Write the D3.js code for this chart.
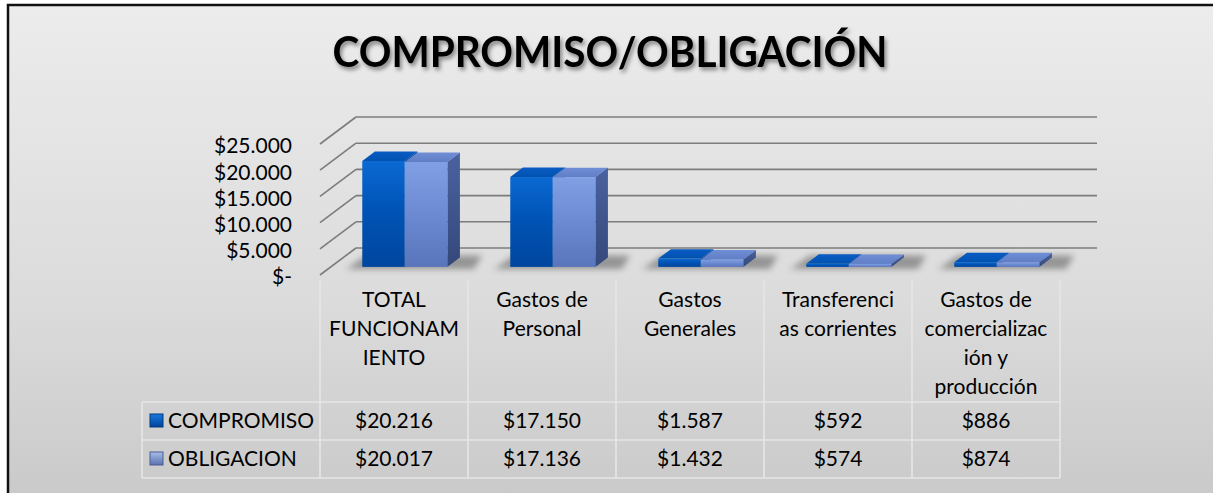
<!DOCTYPE html>
<html><head><meta charset="utf-8">
<script src="https://cdn.jsdelivr.net/npm/d3@7"></script>
<style>body{margin:0;background:#fff;overflow:hidden}</style>
</head><body><svg id="c" width="1213" height="493"></svg>
<script>
const title = "COMPROMISO/OBLIGACIÓN";
const categories = [
  ["TOTAL","FUNCIONAM","IENTO"],
  ["Gastos de","Personal"],
  ["Gastos","Generales"],
  ["Transferenci","as corrientes"],
  ["Gastos de","comercializac","ión y","producción"]
];
const seriesNames = ["COMPROMISO","OBLIGACION"];
const compromiso = [20216,17150,1587,592,886];
const obligacion = [20017,17136,1432,574,874];
const compromisoLabels = ["$20.216","$17.150","$1.587","$592","$886"];
const obligacionLabels = ["$20.017","$17.136","$1.432","$574","$874"];
const tickValues = [0,5000,10000,15000,20000,25000];
const tickLabels = ["$-","$5.000","$10.000","$15.000","$20.000","$25.000"];

const series = [
  {name: seriesNames[0], values: compromiso, labels: compromisoLabels},
  {name: seriesNames[1], values: obligacion, labels: obligacionLabels}
];

const FONT = "Lato, 'Open Sans', sans-serif";
const svg = d3.select("#c");
const defs = svg.append("defs");

function lin(id, stops, x2, y2) {
  const g = defs.append("linearGradient").attr("id", id)
    .attr("x1",0).attr("y1",0).attr("x2",x2).attr("y2",y2);
  stops.forEach(s => g.append("stop").attr("offset", s[0]).attr("stop-color", s[1]));
}
lin("bg", [[0,"#ececec"],[0.5,"#dbdbdb"],[1,"#c0c0c0"]], 0, 1);
lin("cFront", [[0,"#0b69d2"],[0.45,"#0054b6"],[1,"#00469e"]], 0, 1);
lin("cTop", [[0,"#0a5cc4"],[1,"#0052b0"]], 0, 1);
lin("cSide", [[0,"#00408e"],[1,"#003474"]], 0, 1);
lin("oFront", [[0,"#809fe4"],[0.45,"#6d8cd4"],[1,"#5975bb"]], 0, 1);
lin("oTop", [[0,"#6f8ed6"],[1,"#5f7ec6"]], 0, 1);
lin("oSide", [[0,"#4a62a0"],[1,"#34487a"]], 0, 1);
lin("cMark", [[0,"#1a78e0"],[1,"#00449a"]], 0, 1);
lin("oMark", [[0,"#a8bde8"],[1,"#5a72b0"]], 0, 1);

const ts = defs.append("filter").attr("id","tshadow").attr("x","-10%").attr("y","-30%").attr("width","120%").attr("height","160%");
ts.append("feDropShadow").attr("dx",2).attr("dy",3).attr("stdDeviation",2)
  .attr("flood-color","#000").attr("flood-opacity",0.45);
const bs = defs.append("filter").attr("id","bshadow").attr("x","-30%").attr("y","-100%").attr("width","160%").attr("height","300%");
bs.append("feGaussianBlur").attr("stdDeviation",3);

// background + border
svg.append("rect").attr("x",8).attr("y",5).attr("width",1300).attr("height",600)
  .attr("fill","url(#bg)").attr("stroke","#111").attr("stroke-width",2.5);

// title
svg.append("text").attr("x",610).attr("y",67).attr("text-anchor","middle")
  .attr("font-family",FONT).attr("font-weight",700).attr("font-size",42)
  .attr("textLength",555).attr("lengthAdjust","spacingAndGlyphs")
  .attr("fill","#000").attr("filter","url(#tshadow)").text(title);

// scales
const x = d3.scaleBand().domain(d3.range(categories.length)).range([320,1060]);
const y = d3.scaleLinear().domain([0,25000]).range([275,144]);
const DX = 36, DY = -27;
const z0 = 0.3, z1 = 0.65;
const inner = d3.scaleBand().domain(d3.range(series.length))
  .range([0, x.bandwidth()]).paddingOuter(0.74).paddingInner(0);

// gridlines (back wall) and diagonals (side)
const grid = svg.append("g").attr("stroke","#7c7c7c").attr("stroke-width",1.6).attr("fill","none");
tickValues.forEach(t => {
  grid.append("line").attr("x1", x.range()[0]+DX).attr("x2", x.range()[1]+DX+1)
    .attr("y1", y(t)+DY).attr("y2", y(t)+DY);
  grid.append("line").attr("x1", x.range()[0]).attr("x2", x.range()[0]+DX)
    .attr("y1", y(t)).attr("y2", y(t)+DY);
});

// axis labels
const yAxis = d3.axisLeft(y).tickValues(tickValues).tickSize(0)
  .tickFormat((d,i) => tickLabels[i]);
const ya = svg.append("g").attr("transform","translate(292,0)").call(yAxis);
ya.select(".domain").remove();
ya.selectAll("text").attr("font-family",FONT).attr("font-size",21).attr("fill","#000")
  .attr("x",0).attr("dy","0.35em");
ya.selectAll(".tick").attr("transform", d => `translate(0,${y(d)+2})`);

// bars
const bars = svg.append("g");
const faces = [["cFront","cTop","cSide"],["oFront","oTop","oSide"]];
categories.forEach((c, i) => {
  const gx0 = x(i) + inner(0) + DX*z0, gx1 = x(i) + inner(1) + inner.bandwidth() + DX*z1;
  const yb = y(0) + DY*z0;
  bars.append("polygon")
    .attr("points", [[gx0-16, yb+2],[gx1+14, yb+2],[gx1+22, yb+DY*(z1-z0)-2],[gx0+4, yb+DY*(z1-z0)-2]].map(p=>p.join(",")).join(" "))
    .attr("fill","#3a3a3a").attr("opacity",0.45).attr("filter","url(#bshadow)");
  series.forEach((s, j) => {
    const v = s.values[i];
    const fx0 = x(i) + inner(j) + DX*z0;
    const fx1 = fx0 + inner.bandwidth();
    const fyB = y(0) + DY*z0;
    const fyT = y(v) + DY*z0;
    const ddx = DX*(z1-z0), ddy = DY*(z1-z0);
    const g = bars.append("g");
    g.append("polygon").attr("points", [[fx1,fyT],[fx1+ddx,fyT+ddy],[fx1+ddx,fyB+ddy],[fx1,fyB]].map(p=>p.join(",")).join(" "))
      .attr("fill", `url(#${faces[j][2]})`);
    g.append("polygon").attr("points", [[fx0,fyT],[fx1,fyT],[fx1+ddx,fyT+ddy],[fx0+ddx,fyT+ddy]].map(p=>p.join(",")).join(" "))
      .attr("fill", `url(#${faces[j][1]})`);
    g.append("rect").attr("x", fx0).attr("y", fyT).attr("width", fx1-fx0).attr("height", fyB-fyT)
      .attr("fill", `url(#${faces[j][0]})`);
  });
});

// data table
const tbl = svg.append("g");
const lineC = "#e6e6e6";
const rowY = [402, 440, 478];
const legendX = 142;
x.domain().concat([categories.length]).forEach(i => {
  const xx = i < categories.length ? x(i) : x.range()[1];
  tbl.append("line").attr("x1",xx).attr("x2",xx).attr("y1",280).attr("y2",rowY[2])
    .attr("stroke",lineC).attr("stroke-width",1.6);
});
rowY.forEach(yy => tbl.append("line").attr("x1",legendX).attr("x2",x.range()[1]).attr("y1",yy).attr("y2",yy)
  .attr("stroke",lineC).attr("stroke-width",1.6));
tbl.append("line").attr("x1",legendX).attr("x2",legendX).attr("y1",rowY[0]).attr("y2",rowY[2])
  .attr("stroke",lineC).attr("stroke-width",1.6);

categories.forEach((lines, i) => {
  const t = tbl.append("text").attr("x", x(i)+x.bandwidth()/2).attr("text-anchor","middle")
    .attr("font-family",FONT).attr("font-size",21).attr("fill","#000");
  lines.forEach((l, k) => t.append("tspan").attr("x", x(i)+x.bandwidth()/2)
    .attr("y", 300 + k*29).attr("dy","0.35em").text(l));
});

series.forEach((s, j) => {
  const cy = (rowY[j] + rowY[j+1]) / 2;
  tbl.append("rect").attr("x",150).attr("y",cy-7).attr("width",13).attr("height",13)
    .attr("fill", j===0 ? "url(#cMark)" : "url(#oMark)")
    .attr("stroke", j===0 ? "#003a80" : "#4a5f95").attr("stroke-width",1);
  tbl.append("text").attr("x",168).attr("y",cy).attr("dy","0.35em")
    .attr("font-family",FONT).attr("font-size",21).attr("fill","#000").text(s.name);
  s.labels.forEach((lab, i) => {
    tbl.append("text").attr("x", x(i)+x.bandwidth()/2).attr("y", cy).attr("dy","0.35em")
      .attr("text-anchor","middle").attr("font-family",FONT).attr("font-size",21)
      .attr("fill","#000").text(lab);
  });
});
</script>
</body></html>
